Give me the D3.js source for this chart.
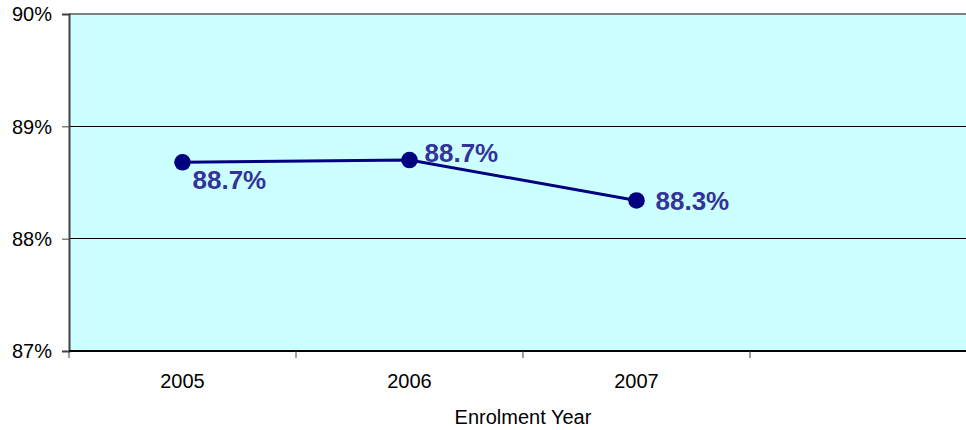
<!DOCTYPE html>
<html>
<head>
<meta charset="utf-8">
<script src="https://cdn.jsdelivr.net/npm/d3@7/dist/d3.min.js"></script>
<style>
  html, body { margin: 0; padding: 0; background: #ffffff; }
  svg { display: block; }
  text { font-family: Arial, "Liberation Sans", sans-serif; }
</style>
</head>
<body>
<div id="chart"></div>
<script>
// Enrolment-year rates
const categories = ["2005", "2006", "2007"];
const rates = [88.68, 88.70, 88.34];
const rateLabels = ["88.7%", "88.7%", "88.3%"];
const yTicks = [87, 88, 89, 90];
const axisTitle = "Enrolment Year";

const W = 966, H = 430;
const plot = { left: 69, top: 14, bottom: 351, slots: 4, slotWidth: 227 };

const svg = d3.select("#chart").append("svg")
  .attr("width", W).attr("height", H);

const y = d3.scaleLinear().domain([87, 90]).range([plot.bottom, plot.top]);
const x = d3.scaleBand().domain(categories)
  .range([plot.left, plot.left + categories.length * plot.slotWidth])
  .paddingInner(0).paddingOuter(0);
const plotRight = plot.left + plot.slots * plot.slotWidth;

// Plot background
svg.append("rect")
  .attr("x", plot.left).attr("y", plot.top)
  .attr("width", plotRight - plot.left).attr("height", plot.bottom - plot.top)
  .attr("fill", "#ccffff");

// Horizontal gridlines
svg.append("g").selectAll("line")
  .data(yTicks.filter(d => d > 87 && d < 90))
  .join("line")
  .attr("x1", plot.left).attr("x2", plotRight)
  .attr("y1", d => y(d)).attr("y2", d => y(d))
  .attr("stroke", "#000000").attr("stroke-width", 1)
  .attr("shape-rendering", "crispEdges");

// Top border of plot area
svg.append("line")
  .attr("x1", plot.left).attr("x2", plotRight)
  .attr("y1", y(90)).attr("y2", y(90))
  .attr("stroke", "#808080").attr("stroke-width", 2);

// Y axis
const yAxis = d3.axisLeft(y).tickValues(yTicks)
  .tickFormat(d => d + "%").tickSize(7).tickPadding(10);
const gy = svg.append("g").attr("transform", `translate(${plot.left},0)`).call(yAxis);
gy.select(".domain").attr("stroke", "#404040").attr("stroke-width", 2);
gy.selectAll(".tick line").attr("stroke", "#404040").attr("stroke-width", 1);
gy.selectAll(".tick text").attr("font-size", 20).attr("fill", "#000000")
  .attr("dy", "0.34em");

// X axis line
svg.append("line")
  .attr("x1", plot.left).attr("x2", plotRight)
  .attr("y1", plot.bottom).attr("y2", plot.bottom)
  .attr("stroke", "#000000").attr("stroke-width", 2);

// X tick marks at category boundaries
svg.append("g").selectAll("line")
  .data(d3.range(plot.slots + 1))
  .join("line")
  .attr("x1", i => plot.left + i * x.step())
  .attr("x2", i => plot.left + i * x.step())
  .attr("y1", plot.bottom).attr("y2", plot.bottom + 7)
  .attr("stroke", "#404040").attr("stroke-width", 1);

// X tick labels
svg.append("g").selectAll("text")
  .data(categories)
  .join("text")
  .attr("x", d => x(d) + x.bandwidth() / 2)
  .attr("y", 388)
  .attr("text-anchor", "middle")
  .attr("font-size", 20).attr("fill", "#000000")
  .text(d => d);

// X axis title
svg.append("text")
  .attr("x", 523).attr("y", 424)
  .attr("text-anchor", "middle")
  .attr("font-size", 20).attr("fill", "#000000")
  .text(axisTitle);

// Series line
const pts = categories.map((c, i) => ({ c, v: rates[i], label: rateLabels[i] }));
const cx = d => x(d.c) + x.bandwidth() / 2;

svg.append("path")
  .datum(pts)
  .attr("d", d3.line().x(cx).y(d => y(d.v)))
  .attr("fill", "none")
  .attr("stroke", "#000080")
  .attr("stroke-width", 3);

// Markers
svg.append("g").selectAll("circle")
  .data(pts)
  .join("circle")
  .attr("cx", cx).attr("cy", d => y(d.v))
  .attr("r", 8.3)
  .attr("fill", "#000080");

// Value labels
const labelOffsets = [[10, 27], [15, 2], [19, 10]];
svg.append("g").selectAll("text")
  .data(pts)
  .join("text")
  .attr("x", (d, i) => cx(d) + labelOffsets[i][0])
  .attr("y", (d, i) => y(d.v) + labelOffsets[i][1])
  .attr("font-size", 26).attr("font-weight", "bold")
  .attr("fill", "#333399")
  .text(d => d.label);
</script>
</body>
</html>
